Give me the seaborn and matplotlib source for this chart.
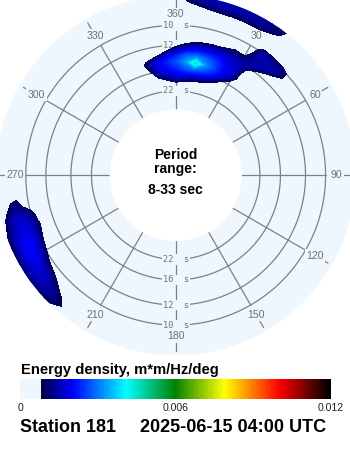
import numpy as np
import pandas as pd
import matplotlib
matplotlib.use("Agg")
import matplotlib.pyplot as plt
import seaborn as sns
from matplotlib.colors import LinearSegmentedColormap, Normalize
from matplotlib.cm import ScalarMappable

# ---- spectrum grid -------------------------------------------------------
FREQ_HZ = [0.030, 0.035, 0.040, 0.045, 0.050, 0.055, 0.060, 0.065, 0.070, 0.075,
           0.080, 0.085, 0.090, 0.095, 0.100, 0.105, 0.110, 0.115, 0.120, 0.125]
DIR_DEG = list(range(0, 360, 5))

# energy density, units of 1e-4 m*m/Hz/deg (rows = direction, cols = frequency)
NORTH_DIRS = [345, 350, 355, 0, 5, 10, 15, 20, 25, 30, 35, 40, 45, 50]
NORTH_FREQS = [0.050, 0.055, 0.060, 0.065, 0.070, 0.075, 0.080, 0.085, 0.090, 0.095, 0.100, 0.105]
NORTH_E4 = [
    [0, 0, 0, 6, 10, 5, 0, 0, 0, 0, 0, 0],
    [0, 3, 13, 17, 18, 8, 0, 0, 0, 0, 0, 0],
    [0, 9, 17, 20, 22, 16, 4, 0, 0, 0, 0, 0],
    [0, 14, 19, 23, 26, 22, 14, 2, 0, 0, 0, 0],
    [0, 12, 20, 27, 32, 28, 19, 9, 0, 0, 0, 0],
    [0, 9, 19, 29, 45, 31, 21, 13, 3, 0, 0, 0],
    [0, 7, 18, 26, 32, 28, 21, 14, 4, 0, 0, 0],
    [0, 2, 14, 22, 25, 24, 20, 15, 5, 0, 0, 0],
    [0, 0, 6, 16, 19, 19, 18, 14, 9, 2, 0, 0],
    [0, 0, 0, 7, 15, 16, 16, 14, 8, 3, 0, 0],
    [0, 0, 0, 0, 0, 0, 5, 14, 15, 15, 13, 4],
    [0, 0, 0, 0, 0, 0, 0, 5, 14, 15, 13, 3],
    [0, 0, 0, 0, 0, 0, 0, 0, 6, 13, 12, 2],
    [0, 0, 0, 0, 0, 0, 0, 0, 0, 4, 4, 0],
]

RIM_DIRS = [0, 5, 10, 15, 20, 25, 30, 35, 40]
RIM_FREQS = [0.110, 0.115, 0.120, 0.125]
RIM_E4 = [
    [0, 0, 2, 6],
    [0, 2, 9, 13],
    [0, 6, 13, 14],
    [2, 8, 14, 15],
    [3, 8, 14, 15],
    [3, 8, 14, 14],
    [2, 8, 13, 13],
    [0, 5, 10, 11],
    [0, 0, 4, 6],
]

WEST_DIRS = [220, 225, 230, 235, 240, 245, 250, 255, 260, 265]
WEST_FREQS = [0.095, 0.100, 0.105, 0.110, 0.115, 0.120, 0.125]
WEST_E4 = [
    [0, 0, 0, 0, 4, 7, 5],
    [0, 0, 0, 6, 11, 12, 8],
    [0, 0, 7, 13, 15, 14, 10],
    [0, 4, 11, 16, 17, 15, 11],
    [0, 9, 16, 20, 19, 15, 10],
    [4, 13, 18, 20, 19, 15, 9],
    [8, 14, 17, 18, 17, 13, 7],
    [5, 12, 15, 16, 15, 10, 4],
    [0, 0, 4, 10, 8, 3, 0],
    [0, 0, 0, 0, 0, 0, 0],
]

RING_PERIODS = [10, 12, 16, 22]
ANGLE_TICKS = [0, 30, 60, 90, 120, 150, 180, 210, 240, 270, 300, 330]
ANGLE_LABELS = ["360", "30", "60", "90", "120", "150", "180", "210", "240", "270", "300", "330"]
CBAR_TICKS = [0, 0.006, 0.012]
CBAR_LABELS = ["0", "0.006", "0.012"]
E_MAX = 0.012
E_FLOOR = 0.0008

TITLE_CBAR = "Energy density, m*m/Hz/deg"
STATION = "Station 181"
STAMP = "2025-06-15 04:00 UTC"
CENTER_LINES = ["Period", "range:", "8-33 sec"]

# ---- build the full direction x frequency table ---------------------------
grid = pd.DataFrame(0.0, index=[round(f, 3) for f in FREQ_HZ], columns=DIR_DEG)
for dirs, freqs, vals in [(NORTH_DIRS, NORTH_FREQS, NORTH_E4),
                          (RIM_DIRS, RIM_FREQS, RIM_E4),
                          (WEST_DIRS, WEST_FREQS, WEST_E4)]:
    for d, row in zip(dirs, vals):
        for f, v in zip(freqs, row):
            grid.loc[round(f, 3), d] = v * 1e-4

Z = np.column_stack([grid.values, grid.values[:, 0]])
theta = np.deg2rad(DIR_DEG + [360])

# ---- styling ---------------------------------------------------------------
sns.set_theme(style="white")
plt.rcParams["font.family"] = ["Liberation Sans", "DejaVu Sans"]

DISK = "#eef6fe"
GRID = "#808080"
LABEL = "#707070"

stops = [(0.0, DISK), (0.0675, DISK), (0.0676, "#00004c"), (0.167, "#0000ff"),
         (0.3375, "#00ffff"), (0.5, "#008000"), (0.66, "#ffff00"),
         (0.836, "#ff0000"), (1.0, "#000000")]
cmap = LinearSegmentedColormap.from_list("energy", stops, N=512)
cmap_bar = LinearSegmentedColormap.from_list("energy_bar", stops, N=104)
norm = Normalize(0, E_MAX)

W, H = 350, 450
fig = plt.figure(figsize=(W / 100, H / 100), dpi=100, facecolor="white")

# polar axes: radius linear in frequency, 33 s at the hole, 8 s at the rim
F_MIN, F_MAX = 1 / 33, 0.125
R_ORIGIN = -0.0245
cx, cy, rad = 175.7, 175.2, 180.0
ax = fig.add_axes([(cx - rad) / W, (H - cy - rad) / H, 2 * rad / W, 2 * rad / H],
                  projection="polar")
ax.set_theta_zero_location("N")
ax.set_theta_direction(-1)
ax.set_rlim(F_MIN, F_MAX)
ax.set_rorigin(R_ORIGIN)
ax.set_facecolor(DISK)
for s in ax.spines.values():
    s.set_visible(False)
    s.set_linewidth(0)
    s.set_edgecolor("none")
ax.grid(False)
ax.set_xticks([])
ax.set_yticks([])

# rings and spokes
tt = np.linspace(0, 2 * np.pi, 721)
for p in RING_PERIODS:
    ax.plot(tt, np.full_like(tt, 1 / p), color=GRID, lw=0.9, zorder=1)
F_LAB = 0.1091
for a, lab in zip(ANGLE_TICKS, ANGLE_LABELS):
    t = np.deg2rad(a)
    ax.plot([t, t], [F_MIN, 0.1], color=GRID, lw=0.9, zorder=1)
    ax.plot([t, t], [0.1149, 0.1215], color=GRID, lw=0.9, zorder=1)
    ax.text(t, F_LAB, lab, ha="center", va="center", fontsize=7.6,
            color=LABEL, zorder=2,
            bbox=dict(boxstyle="square,pad=0.15", fc=DISK, ec="none"))

for p in RING_PERIODS:
    for a in (0, np.pi):
        ax.text(a, 1 / p, f"{p}  s", ha="center", va="center", fontsize=6.2,
                family="DejaVu Sans Mono", color=LABEL, zorder=2,
                bbox=dict(boxstyle="square,pad=0.1", fc=DISK, ec="none"))

levels = np.linspace(E_FLOOR, E_MAX, 113)
ax.contourf(theta, FREQ_HZ, Z, levels=levels, cmap=cmap, norm=norm,
            extend="max", zorder=3)


def fx(x):
    return x / W


def fy(y):
    return 1 - y / H


# centre caption
for txt, yb in zip(CENTER_LINES, [159.3, 172.5, 194.0]):
    fig.text(fx(175.5), fy(yb), txt, ha="center", va="baseline",
             fontsize=10, fontweight="bold", color="black")

# colour bar
cax = fig.add_axes([fx(20), fy(399), 311 / W, 20 / H])
cb = fig.colorbar(ScalarMappable(norm=norm, cmap=cmap_bar), cax=cax,
                  orientation="horizontal")
cb.set_ticks(CBAR_TICKS)
cb.set_ticklabels(CBAR_LABELS)
cb.outline.set_visible(False)
cax.tick_params(length=0, pad=3, labelsize=7.6, colors="#202020")

fig.text(fx(21), fy(374.3), TITLE_CBAR, ha="left", va="baseline",
         fontsize=10.6, fontweight="bold", color="black")
fig.text(fx(20.5), fy(431.7), STATION, ha="left", va="baseline",
         fontsize=12.9, fontweight="bold", color="black")
fig.text(fx(140), fy(431.7), STAMP, ha="left", va="baseline",
         fontsize=13, fontweight="bold", color="black")

fig.savefig("out.png", dpi=100, facecolor="white")
